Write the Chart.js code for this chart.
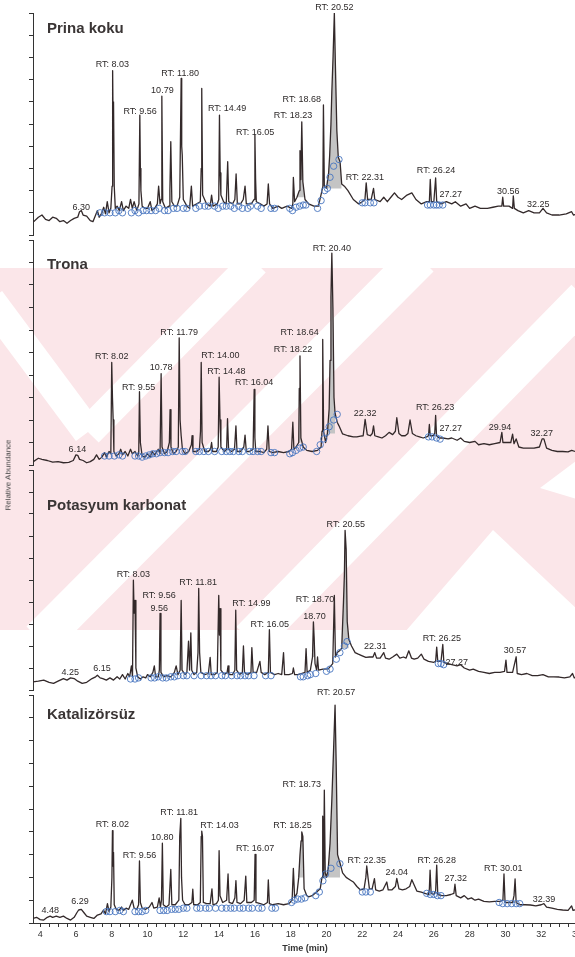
<!DOCTYPE html>
<html>
<head>
<meta charset="utf-8">
<script src="https://cdn.jsdelivr.net/npm/chart.js@4.4.1/dist/chart.umd.min.js"></script>
<style>
  html, body { margin: 0; padding: 0; background: #fff; }
  body { position: relative; width: 575px; height: 957px; overflow: hidden; }
  canvas { position: absolute; left: 0; }
  #mark { position: absolute; left: 0; top: 0; }
  #ylab {
    position: absolute; left: 8px; top: 475px; width: 120px; margin-left: -60px;
    text-align: center; font: 8px "Liberation Sans", Arial, sans-serif; color: #444;
    transform: translateY(-50%) rotate(-90deg); white-space: nowrap;
  }
</style>
</head>
<body>
<!-- watermark behind the chromatograms -->
<svg id="mark" width="575" height="957">
  <defs><clipPath id="band"><rect x="0" y="268" width="575" height="362"/></clipPath></defs>
  <g clip-path="url(#band)">
    <rect x="0" y="268" width="575" height="362" fill="#fbe6e9"/>
    <g stroke="#fff" fill="none">
      <line x1="-10" y1="300" x2="88" y2="432" stroke-width="30"/>
      <line x1="88" y1="432" x2="255" y2="262" stroke-width="30"/>
      <line x1="40" y1="640" x2="420" y2="258" stroke-width="38"/>
      <line x1="250" y1="640" x2="585" y2="298" stroke-width="38"/>
    </g>
    <polygon points="405,632 493,530 580,612 580,632" fill="#fff"/>
    <polygon points="580,458 540,488 580,500" fill="#fff"/>
  </g>
</svg>
<canvas id="c1" width="590" height="240" style="top:0px"></canvas>
<canvas id="c2" width="590" height="245" style="top:225px"></canvas>
<canvas id="c3" width="590" height="240" style="top:455px"></canvas>
<canvas id="c4" width="590" height="277" style="top:680px"></canvas>
<div id="ylab">Relative Abundance</div>
<script>
const panelNames = ["Prina koku", "Trona", "Potasyum karbonat", "Katalizörsüz"];
const timeTicks = [4, 6, 8, 10, 12, 14, 16, 18, 20, 22, 24, 26, 28, 30, 32, 34];

// [time, relative abundance]
const prinaTrace = [[3.6,5.7],[3.9,8],[4.1,9],[4.3,7],[4.5,6.5],[4.7,8],[4.9,7.5],[5.1,6],[5.3,6.5],[5.5,5.3],[5.7,6.5],[5.9,7.5],[6.1,8],[6.2,10.5],[6.3,11],[6.4,9],[6.6,8.5],[6.8,6.5],[6.95,6],[7.1,9],[7.2,11],[7.3,8],[7.45,10],[7.55,12.5],[7.65,9.5],[7.75,15],[7.85,10],[7.95,12],[8.02,22],[8.05,74],[8.08,48],[8.1,60],[8.14,22],[8.2,12],[8.3,13],[8.42,11],[8.55,15],[8.65,11],[8.8,13],[8.95,12],[9.05,16],[9.15,12],[9.25,15],[9.4,11],[9.52,14],[9.57,54],[9.6,30],[9.63,20],[9.7,13],[9.85,12],[10.0,12],[10.15,15],[10.25,11],[10.4,12],[10.55,14],[10.62,22],[10.7,14],[10.76,16],[10.8,62.5],[10.85,15],[11.0,12],[11.2,13],[11.25,20],[11.3,42],[11.36,15],[11.5,13],[11.65,13],[11.8,17],[11.88,70.5],[11.91,40],[11.94,36],[12.0,16],[12.2,13],[12.35,12],[12.45,22],[12.52,13],[12.75,14],[12.95,15],[13.0,30],[13.03,66],[13.08,18],[13.3,14],[13.5,13],[13.58,18],[13.66,13],[13.9,14],[13.98,16],[14.02,54],[14.06,28],[14.1,18],[14.25,15],[14.4,14],[14.48,33],[14.54,15],[14.75,14],[14.88,16],[14.95,27.5],[15.02,14],[15.2,14],[15.35,16],[15.45,22],[15.52,14],[15.8,14],[15.95,16],[16.0,45],[16.04,25],[16.08,15],[16.3,14],[16.5,13],[16.68,14],[16.75,23],[16.82,14],[17.0,12],[17.3,13],[17.5,12],[17.8,13],[18.05,12],[18.12,14],[18.15,26],[18.22,15],[18.35,17],[18.48,20],[18.52,38],[18.57,25],[18.62,51],[18.68,24],[18.8,16],[19.0,14],[19.3,13],[19.55,13],[19.72,19],[19.8,22],[19.83,58.6],[19.88,22],[20.0,21],[20.12,28],[20.18,36],[20.25,50],[20.3,64.6],[20.37,80.6],[20.44,100],[20.5,76],[20.58,47],[20.66,35],[20.76,33],[20.85,23],[21.0,22],[21.2,20],[21.5,16],[21.8,14],[22.0,15],[22.15,16],[22.22,23.5],[22.3,16],[22.5,16],[22.63,21],[22.7,16],[23.0,15],[23.2,17],[23.4,15],[23.6,17],[23.8,19],[24.0,17],[24.2,16],[24.5,18],[24.77,19],[25.0,16],[25.3,14],[25.6,15],[25.75,15],[25.8,25],[25.86,15],[26.0,15],[26.1,25.7],[26.16,15],[26.4,14],[26.7,15],[27.0,14],[27.2,15],[27.5,13],[27.8,14],[28.0,12],[28.3,13],[28.6,12],[29.0,12],[29.3,12.5],[29.6,13],[29.8,13],[29.85,17],[29.9,13],[30.2,13],[30.4,12],[30.44,17.6],[30.5,12],[30.7,11],[31.0,10],[31.3,11],[31.6,10],[31.9,10],[32.1,12],[32.3,10],[32.6,9],[33.0,9],[33.4,9.5],[33.7,10.5],[33.8,9],[34,9.5]];
const prinaMarks = [[7.35,10],[7.6,10],[7.9,10],[8.2,10],[8.4,11],[8.6,10],[9.1,10],[9.3,11],[9.5,10],[9.75,11],[9.95,11],[10.2,11],[10.45,11],[10.65,12],[10.95,11],[11.15,11],[11.45,12],[11.65,12],[12.0,12],[12.2,12],[12.7,12],[12.9,13],[13.2,13],[13.4,13],[13.75,13],[13.95,12],[14.2,13],[14.4,13],[14.65,13],[14.85,12],[15.1,13],[15.3,12],[15.6,12],[15.75,13],[16.15,13],[16.35,12],[16.9,12],[17.1,12],[17.95,12],[18.1,11],[18.3,12.5],[18.5,13],[18.7,13.5],[18.85,13.5],[19.5,12],[19.7,15.5],[19.9,20],[20.05,21],[20.2,26],[20.4,31],[20.7,34],[22.0,14.5],[22.15,14.5],[22.45,14.5],[22.65,14.5],[25.65,13.5],[25.8,13.5],[26.0,13.5],[26.15,13.5],[26.3,13.5],[26.5,13.5]];
const prinaShades = [[18.35, 18.8], [20.0, 20.85]];
const prinaLabels = [["RT: 8.03",8.04,76.8],["RT: 9.56",9.59,55.4],["10.79",10.83,65.1],["RT: 11.80",11.82,72.6],["RT: 14.49",14.45,57],["RT: 16.05",16.01,46.3],["RT: 18.68",18.62,60.9],["RT: 18.23",18.13,53.6],["RT: 20.52",20.44,102.5],["6.30",6.29,12.5],["RT: 22.31",22.15,25.7],["RT: 26.24",26.12,29],["27.27",26.94,18.4],["30.56",30.16,19.8],["32.25",31.84,13.9]];

const tronaTrace = [[3.6,1.4],[3.9,3],[4.1,2.5],[4.4,2],[4.7,1.3],[5.0,1.5],[5.3,1],[5.6,1.2],[5.85,2],[6.0,4.5],[6.1,4.3],[6.2,2.5],[6.4,2],[6.6,1],[6.8,1.5],[7.0,2.5],[7.15,4.5],[7.3,2.5],[7.45,3.5],[7.6,5.5],[7.7,3.5],[7.85,6],[7.95,5],[8.0,45.6],[8.04,30],[8.08,20],[8.12,6],[8.25,4],[8.4,5],[8.5,7],[8.6,4.5],[8.75,6],[8.9,4],[9.05,7],[9.15,5],[9.3,6],[9.45,4],[9.51,6],[9.55,32.6],[9.6,10],[9.7,4],[9.85,3.5],[10.0,5],[10.15,3.5],[10.25,6],[10.4,4.5],[10.6,7],[10.7,5],[10.76,40.6],[10.81,8],[10.95,5],[11.1,6],[11.22,10],[11.26,24.6],[11.31,8],[11.45,5],[11.6,6],[11.72,8],[11.77,56.5],[11.82,20],[11.88,13],[11.95,7],[12.1,5],[12.3,6],[12.45,9],[12.49,13],[12.54,6],[12.75,6],[12.9,7],[12.96,15],[13.0,45.6],[13.05,10],[13.2,6],[13.4,6],[13.52,7],[13.58,10],[13.64,6],[13.85,6],[13.95,8],[14.0,39],[14.05,20],[14.1,8],[14.3,6],[14.42,7],[14.47,20.6],[14.53,7],[14.7,6],[14.86,7],[14.94,17.4],[15.0,6],[15.2,6],[15.38,8],[15.45,13.3],[15.52,6],[15.7,6],[15.9,7],[15.96,33.6],[16.0,12],[16.05,6],[16.3,6],[16.5,5.5],[16.66,7],[16.73,17.4],[16.8,6],[17.0,5.5],[17.3,6],[17.6,5.5],[17.9,6],[18.05,7],[18.12,19],[18.18,7],[18.3,8],[18.45,10],[18.48,34],[18.52,48.5],[18.57,12],[18.7,8],[18.9,6.5],[19.2,6],[19.5,6.5],[19.7,8],[19.75,15],[19.79,55.8],[19.84,15],[19.95,10],[20.05,14],[20.15,25],[20.2,46.5],[20.25,74.6],[20.3,94.2],[20.36,70],[20.42,30],[20.48,23],[20.6,19],[20.7,17.4],[20.9,13.8],[21.2,13],[21.5,12.5],[21.7,12.5],[21.9,12.8],[22.05,13],[22.16,20.3],[22.28,13.5],[22.45,13],[22.56,14],[22.63,17.4],[22.7,13],[22.9,12.5],[23.1,12],[23.3,13],[23.5,14.5],[23.7,13.5],[23.85,15],[23.93,21],[24.05,14],[24.2,13],[24.4,13],[24.55,14],[24.67,20],[24.8,14],[25.0,13],[25.2,12.5],[25.4,12],[25.6,12.5],[25.7,13],[25.75,18],[25.8,13],[25.95,13],[26.05,14],[26.1,22],[26.15,13],[26.3,12],[26.5,12],[26.8,11.6],[27.0,12],[27.3,11],[27.5,12],[27.7,10.5],[28.0,10],[28.3,10.5],[28.5,9],[28.8,9.5],[29.1,9],[29.4,9.5],[29.7,10],[29.8,14.5],[29.86,10],[30.1,10],[30.3,10],[30.4,13.7],[30.48,9.5],[30.6,11.6],[30.75,8],[31.0,7.5],[31.3,7.5],[31.6,7.5],[31.9,8],[32.05,11.6],[32.15,11.6],[32.3,7.5],[32.6,6.5],[32.9,6],[33.2,6],[33.5,5.8],[33.7,6.5],[33.9,6]];
const tronaMarks = [[7.6,4],[7.85,4],[8.15,4],[8.4,4.5],[8.6,4],[9.3,4],[9.5,4],[9.7,3.5],[9.9,4],[10.1,4.5],[10.3,5],[10.5,5],[10.7,5.5],[10.95,5.5],[11.15,5.5],[11.4,6],[11.6,6],[11.95,6],[12.1,6],[12.7,6],[12.9,6],[13.15,6],[13.4,6],[13.75,6],[14.15,6],[14.4,6],[14.6,6],[14.8,6],[15.1,6],[15.3,6],[15.7,6],[15.9,6],[16.15,6],[16.35,6],[16.9,5.5],[17.1,5.5],[17.95,5],[18.1,5.5],[18.3,6.5],[18.5,7.5],[18.7,8],[19.45,6],[19.65,9],[19.85,11.6],[20.0,14.5],[20.15,17],[20.4,20],[20.6,22.5],[25.7,12.5],[25.9,12.5],[26.15,12],[26.35,11.5]];
const tronaShades = [[18.4, 18.6], [20.05, 20.5]];
const tronaLabels = [["6.14",6.08,7],["RT: 8.02",8.0,48.1],["RT: 9.55",9.5,34.3],["10.78",10.76,43.2],["RT: 11.79",11.77,59],["RT: 14.00",14.07,48.6],["RT: 14.48",14.41,41.6],["RT: 16.04",15.96,36.7],["RT: 18.64",18.5,59],["RT: 18.22",18.13,51.4],["RT: 20.40",20.3,96],["22.32",22.16,22.9],["RT: 26.23",26.07,25.4],["27.27",26.94,16],["29.94",29.7,16.7],["32.27",32.03,13.8]];

const potasyumTrace = [[3.6,3.7],[3.9,4],[4.2,4.5],[4.5,3.5],[4.75,3],[5.0,4],[5.3,5.2],[5.5,4.5],[5.7,5.5],[5.9,5.2],[6.1,4],[6.35,3],[6.6,3.5],[6.9,5.2],[7.1,6],[7.2,6.7],[7.35,5.5],[7.5,5.2],[7.7,4.5],[7.9,5.5],[8.1,4.5],[8.3,6],[8.45,5],[8.6,7],[8.75,5],[8.9,7.5],[9.0,6],[9.1,11],[9.16,6],[9.21,49.9],[9.25,35],[9.3,40.7],[9.35,10],[9.45,6],[9.6,5],[9.75,6],[9.9,5.5],[10.0,7],[10.15,6],[10.3,8],[10.38,11],[10.45,6],[10.6,6],[10.66,9],[10.7,34.8],[10.75,8],[10.9,6],[11.1,6.5],[11.3,6],[11.5,8],[11.6,11],[11.7,7],[11.82,9],[11.88,40.7],[11.93,9],[12.1,7],[12.2,8],[12.29,22.2],[12.35,9],[12.42,26],[12.47,9],[12.6,7],[12.75,8],[12.82,17],[12.86,46.2],[12.91,17],[12.98,8],[13.2,7],[13.4,7.5],[13.5,14.8],[13.56,7],[13.75,7],[13.9,8],[13.98,43],[14.02,25],[14.05,37],[14.1,9],[14.3,7],[14.45,8],[14.5,11],[14.55,7],[14.75,7],[14.88,9],[14.93,36.3],[14.98,9],[15.15,7],[15.3,8],[15.36,20],[15.42,8],[15.6,7],[15.78,8],[15.83,19.3],[15.9,8],[16.1,8],[16.28,13],[16.35,8],[16.55,7],[16.75,8],[16.81,27.4],[16.87,8],[17.1,7],[17.3,7.5],[17.5,7],[17.6,17],[17.66,7],[17.9,7],[18.1,7.5],[18.15,10],[18.22,7],[18.4,7],[18.6,7.5],[18.8,8],[18.86,18.8],[18.92,8],[19.1,9],[19.22,15],[19.27,31],[19.31,24],[19.36,12],[19.45,9],[19.5,15],[19.56,9],[19.8,9.5],[20.1,9.6],[20.35,12],[20.44,43],[20.5,15],[20.6,17],[20.75,18],[20.85,19],[20.95,40],[21.0,52],[21.04,72.6],[21.1,64],[21.16,31],[21.25,23],[21.4,20],[21.6,17],[21.78,16.3],[22.0,15.5],[22.2,14.8],[22.4,15],[22.6,15],[22.7,17],[22.8,14.5],[23.0,14.5],[23.2,17],[23.3,14.5],[23.5,14],[23.7,15],[23.93,16.3],[24.1,14.5],[24.3,15],[24.45,14.5],[24.6,17.8],[24.75,14.5],[24.9,14],[25.1,14.5],[25.3,16.3],[25.45,14],[25.7,13],[26.0,12.6],[26.1,13],[26.16,19.5],[26.22,13],[26.4,13],[26.5,20.7],[26.56,12.5],[26.8,12],[27.0,11.5],[27.3,11],[27.5,11.5],[27.7,10],[28.0,9],[28.2,9.5],[28.5,8.5],[28.8,8],[29.1,7.5],[29.4,8],[29.7,8],[29.95,8.5],[30.03,13.6],[30.09,8],[30.4,8],[30.6,15.1],[30.66,7.5],[30.9,7],[31.2,7.5],[31.5,6.5],[31.8,6.5],[32.1,7],[32.4,6],[32.7,6],[33.0,5.9],[33.3,5.5],[33.6,6],[33.75,7.5],[33.85,5.5],[34,6]];
const potasyumMarks = [[9.05,5],[9.3,5],[9.5,5.5],[10.2,5.5],[10.4,5.5],[10.6,6],[10.85,5.5],[11.05,5.5],[11.3,6],[11.5,6],[11.7,6.5],[12.0,6.5],[12.2,6.5],[12.6,6.5],[13.0,6.5],[13.3,6.5],[13.55,6.5],[13.8,6.5],[14.15,6.5],[14.35,6.5],[14.7,6.5],[15.0,6.5],[15.2,6.5],[15.45,6.5],[15.65,6.5],[15.95,6.5],[16.6,6.5],[16.9,6.5],[18.55,6],[18.7,6],[18.95,6.5],[19.1,7],[19.4,7.5],[20.0,8.5],[20.2,9.5],[20.55,14],[20.75,17],[21.0,20],[21.15,22],[26.25,12],[26.4,12],[26.55,11.5]];
const potasyumShades = [[11.8, 11.95], [19.2, 19.37], [20.85, 21.3]];
const potasyumLabels = [["4.25",5.68,7.9],["6.15",7.45,9.6],["RT: 8.03",9.21,52.6],["RT: 9.56",10.65,43],["9.56",10.65,37],["RT: 11.81",12.83,48.9],["RT: 14.99",15.8,39.2],["RT: 16.05",16.83,29.9],["RT: 18.70",19.36,41.2],["18.70",19.33,33.6],["RT: 20.55",21.08,75.1],["22.31",22.72,19.6],["RT: 26.25",26.45,23.2],["27.27",27.28,12.6],["30.57",30.54,17.8]];

const katalizTrace = [[3.6,2],[3.8,2.5],[4.0,1.5],[4.2,1.3],[4.4,2.5],[4.56,3],[4.7,2.5],[4.9,3],[5.1,2.5],[5.3,3],[5.5,2],[5.7,1.3],[5.9,2.5],[6.05,4.5],[6.15,5.7],[6.3,6],[6.45,4.5],[6.6,3],[6.8,2.5],[7.0,2],[7.2,3.5],[7.4,4],[7.54,5.7],[7.65,4],[7.76,8.5],[7.85,5],[7.95,7],[8.01,20],[8.04,40.5],[8.07,25],[8.1,31],[8.14,8],[8.25,6],[8.4,5.5],[8.55,7],[8.65,5.5],[8.8,6.5],[8.95,6],[9.05,8],[9.15,10],[9.25,6.5],[9.4,6],[9.5,8],[9.55,27.2],[9.6,9],[9.7,6.5],[9.9,6],[10.1,7],[10.25,9],[10.35,6.5],[10.55,7],[10.65,11],[10.72,7],[10.78,10],[10.83,35],[10.88,8],[11.05,7],[11.2,8],[11.3,23.5],[11.36,8],[11.55,8],[11.75,10],[11.8,38],[11.86,45.9],[11.9,20],[11.96,10],[12.1,8],[12.3,8],[12.48,9],[12.53,14.8],[12.58,8],[12.8,8],[12.95,9],[13.0,38],[13.03,40.3],[13.07,38],[13.12,9],[13.3,8.5],[13.5,8.5],[13.6,15],[13.66,8],[13.85,8.5],[13.96,10],[14.0,31.7],[14.05,12],[14.2,9],[14.42,10],[14.5,21.5],[14.56,9],[14.75,8.5],[14.88,11],[14.94,18.6],[15.0,9],[15.2,8.5],[15.4,10],[15.49,20.6],[15.55,9],[15.8,9],[15.96,10],[16.01,30.1],[16.06,9],[16.3,8.5],[16.5,8],[16.7,9],[16.75,18.9],[16.81,8.5],[17.0,8],[17.3,8.5],[17.6,8],[17.9,8.5],[18.08,10],[18.15,24],[18.22,11],[18.35,13],[18.45,20],[18.52,30],[18.58,36],[18.62,40],[18.68,38],[18.75,15],[18.9,12],[19.0,11.5],[19.2,12],[19.45,13.6],[19.65,15],[19.75,20],[19.79,46.9],[19.84,20],[19.88,58.3],[19.93,22],[20.0,20],[20.1,24],[20.2,35],[20.3,54],[20.39,74.4],[20.48,95.6],[20.54,71],[20.62,30],[20.76,26.2],[20.9,22],[21.1,20],[21.3,19],[21.5,18],[21.7,16],[21.9,14.5],[22.1,15],[22.2,20],[22.25,25],[22.32,20],[22.4,15],[22.55,15],[22.68,19.5],[22.75,14.5],[22.95,14],[23.15,14.5],[23.37,18],[23.45,14.5],[23.65,14.5],[23.85,16],[23.93,19.6],[24.05,15],[24.25,14.5],[24.45,15],[24.65,16],[24.77,19],[24.9,16.7],[25.05,14],[25.3,13.5],[25.5,13],[25.7,12.5],[25.75,15],[25.79,23.2],[25.85,13],[26.0,12.5],[26.1,14],[26.16,25.4],[26.22,12.5],[26.45,12],[26.7,12],[26.95,12.5],[27.12,13],[27.18,17],[27.25,12],[27.5,11],[27.7,12],[27.9,10.5],[28.1,11],[28.3,10],[28.5,10.5],[28.8,9.5],[29.1,9.3],[29.4,9.5],[29.7,9.5],[29.86,10],[29.92,21.5],[29.98,9],[30.2,9],[30.4,9],[30.48,12],[30.54,19.3],[30.6,9],[30.8,8],[31.1,8],[31.4,7.9],[31.7,7.5],[32.0,8],[32.15,8.5],[32.3,7],[32.6,6.5],[32.9,6],[33.2,5.7],[33.5,5.5],[33.7,7.5],[33.78,5.5],[34,6]];
const katalizMarks = [[7.7,5],[7.9,5],[8.2,5],[8.45,5.5],[8.65,5],[9.3,5],[9.5,5],[9.7,5],[9.9,5.5],[10.7,5.5],[10.9,5.5],[11.1,5.5],[11.35,6],[11.55,6],[11.75,6],[12.0,6.5],[12.2,6.5],[12.75,6.5],[12.95,6.5],[13.25,6.5],[13.45,6.5],[13.8,6.5],[14.15,6.5],[14.4,6.5],[14.65,6.5],[14.85,6.5],[15.15,6.5],[15.35,6.5],[15.65,6.5],[15.85,6.5],[16.2,6.5],[16.4,6.5],[16.95,6.5],[17.15,6.5],[18.05,9],[18.2,10],[18.4,10.5],[18.6,10.5],[18.8,11],[19.4,12],[19.6,13.6],[19.8,18.5],[19.95,21.5],[20.25,24],[20.75,26],[22.0,13.6],[22.2,13.6],[22.45,13.6],[25.6,13],[25.8,12.5],[26.0,12.5],[26.2,12],[26.4,12],[29.65,9],[29.85,8.5],[30.1,8.5],[30.35,8.5],[30.6,8.5],[30.8,8.5]];
const katalizShades = [[18.45, 18.75], [19.75, 20.8]];
const katalizLabels = [["4.48",4.56,5.4],["6.29",6.23,9.3],["RT: 8.02",8.04,43],["RT: 9.56",9.55,29.5],["10.80",10.82,37.4],["RT: 11.81",11.77,48.4],["RT: 14.03",14.02,42.7],["RT: 16.07",16.01,32.5],["RT: 18.25",18.1,42.7],["RT: 18.73",18.62,60.8],["RT: 20.57",20.54,100.9],["RT: 22.35",22.25,27.6],["24.04",23.93,22.2],["RT: 26.28",26.16,27.6],["27.32",27.22,19.3],["RT: 30.01",29.88,24],["32.39",32.16,10.5]];

const lineColor = "#33292a";
const markColor = "rgba(72,118,192,0.9)";
const shadeColor = "#c4c4c4";
const fontFam = '"Liberation Sans", Arial, sans-serif';

// titles and RT labels drawn at data positions
const peakText = {
    id: "peakText",
    afterDatasetsDraw(chart, args, opts) {
        const { ctx, chartArea, scales: { x, y } } = chart;
        ctx.save();
        ctx.fillStyle = "#3a3535";
        ctx.textBaseline = "middle";
        ctx.textAlign = "left";
        ctx.font = "bold 15px " + fontFam;
        ctx.fillText(opts.name, chartArea.left + 14, chartArea.top + opts.nameTop);
        ctx.fillStyle = "#2e2a2a";
        ctx.font = "9px " + fontFam;
        ctx.textAlign = "center";
        opts.labels.forEach(([txt, t, v]) => {
            ctx.fillText(txt, x.getPixelForValue(t), y.getPixelForValue(v));
        });
        ctx.restore();
    },
};

const panels = [
    { id: "c1", name: panelNames[0], trace: prinaTrace, marks: prinaMarks, shades: prinaShades, labels: prinaLabels, padTop: 13, nameTop: 16 },
    { id: "c2", name: panelNames[1], trace: tronaTrace, marks: tronaMarks, shades: tronaShades, labels: tronaLabels, padTop: 15, nameTop: 25 },
    { id: "c3", name: panelNames[2], trace: potasyumTrace, marks: potasyumMarks, shades: potasyumShades, labels: potasyumLabels, padTop: 15, nameTop: 36 },
    { id: "c4", name: panelNames[3], trace: katalizTrace, marks: katalizMarks, shades: katalizShades, labels: katalizLabels, padTop: 15, nameTop: 20 },
];

panels.forEach((p, i) => {
    const last = i === panels.length - 1;
    const shadeSets = p.shades.map(([a, b]) => {
        const pts = p.trace.filter(q => q[0] >= a && q[0] <= b);
        return {
            data: pts,
            borderWidth: 0,
            pointRadius: 0,
            backgroundColor: shadeColor,
            fill: { value: pts[0][1] },
            tension: 0,
        };
    });

    new Chart(document.getElementById(p.id), {
        type: "line",
        data: {
            datasets: [
                {
                    data: p.marks,
                    showLine: false,
                    pointStyle: "circle",
                    pointRadius: 3.2,
                    pointBorderWidth: 1,
                    pointBorderColor: markColor,
                    pointBackgroundColor: "rgba(0,0,0,0)",
                },
                {
                    data: p.trace,
                    borderColor: lineColor,
                    borderWidth: 1.3,
                    borderJoinStyle: "round",
                    pointRadius: 0,
                    tension: 0,
                },
                ...shadeSets,
            ],
        },
        options: {
            responsive: false,
            animation: false,
            events: [],
            layout: { padding: { left: 25, right: 13, top: p.padTop, bottom: 0 } },
            scales: {
                x: {
                    type: "linear",
                    min: 3.6,
                    max: 34,
                    display: last,
                    afterFit: (s) => { s.height = last ? 34 : 0; },
                    border: { display: true, color: "#333", width: 1 },
                    grid: { drawOnChartArea: false, drawTicks: true, tickLength: 4, color: "#333" },
                    ticks: {
                        stepSize: 0.5,
                        includeBounds: false,
                        autoSkip: false,
                        maxRotation: 0,
                        padding: 2,
                        color: "#333",
                        font: { size: 9, family: fontFam },
                        callback: (v) => (timeTicks.includes(v) ? String(v) : ""),
                    },
                    title: {
                        display: true,
                        text: "Time (min)",
                        color: "#333",
                        font: { size: 9, weight: "bold", family: fontFam },
                        padding: { top: 0, bottom: 3 },
                    },
                },
                y: {
                    min: 0,
                    max: 100,
                    afterFit: (s) => { s.width = 8; },
                    border: { display: true, color: "#333", width: 1 },
                    grid: { drawOnChartArea: false, drawTicks: true, tickLength: 4, color: "#333" },
                    ticks: { display: false, stepSize: 10 },
                },
            },
            plugins: {
                legend: { display: false },
                tooltip: { enabled: false },
                peakText: { name: p.name, labels: p.labels, nameTop: p.nameTop },
            },
        },
        plugins: [peakText],
    });
});
</script>
</body>
</html>
